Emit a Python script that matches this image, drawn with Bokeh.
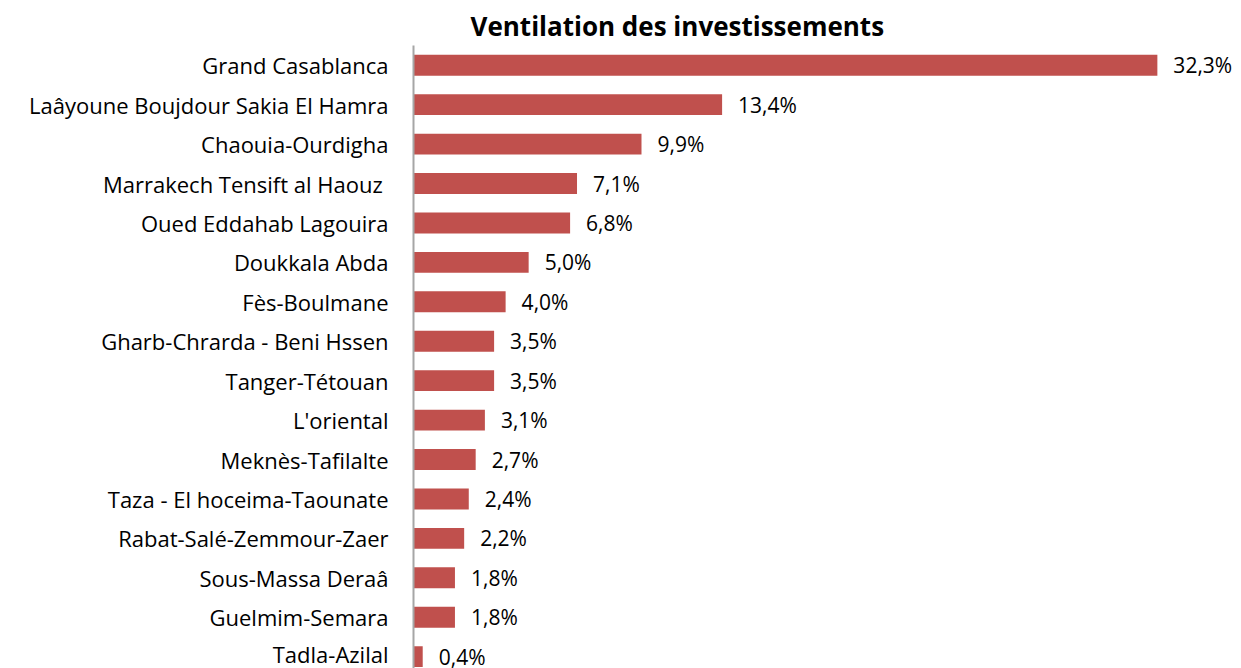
from bokeh.plotting import figure
from bokeh.models import ColumnDataSource, Range1d, FixedTicker, LinearAxis
from bokeh.core.properties import value
from bokeh.embed import file_html
from bokeh.resources import INLINE

regions = [
    "Grand Casablanca",
    "Laâyoune Boujdour Sakia El Hamra",
    "Chaouia-Ourdigha",
    "Marrakech Tensift al Haouz ",
    "Oued Eddahab Lagouira",
    "Doukkala Abda",
    "Fès-Boulmane",
    "Gharb-Chrarda - Beni Hssen",
    "Tanger-Tétouan",
    "L'oriental",
    "Meknès-Tafilalte",
    "Taza - El hoceima-Taounate",
    "Rabat-Salé-Zemmour-Zaer",
    "Sous-Massa Deraâ",
    "Guelmim-Semara",
    "Tadla-Azilal",
]
shares = [32.3, 13.4, 9.9, 7.1, 6.8, 5.0, 4.0, 3.5, 3.5, 3.1, 2.7, 2.4, 2.2, 1.8, 1.8, 0.4]

n = len(regions)
ypos = [n - 1 - i for i in range(n)]
labels = [f"{v:.1f}".replace(".", ",") + "%" for v in shares]

src = ColumnDataSource(dict(y=ypos, v=shares, lab=labels))

FONT = "Open Sans"
W, H = 1241, 668
LEFT, TOP = 413, 45
PX_PER_UNIT = 23.03
ROW = 39.43

p = figure(
    width=W, height=H,
    x_range=Range1d(0, (W - LEFT) / PX_PER_UNIT),
    y_range=Range1d(n - 0.5 - (H - TOP) / ROW, n - 0.5),
    output_backend="svg", toolbar_location=None,
    x_axis_location=None, y_axis_location=None,
    min_border_left=LEFT, min_border_right=0,
    min_border_top=TOP, min_border_bottom=0,
    title="Ventilation des investissements",
)
p.outline_line_color = None
p.grid.visible = False

p.hbar(y="y", left=0, right="v", height=0.53, source=src,
       fill_color="#C0504D", line_color=None)

p.text(x="v", y="y", text="lab", source=src, x_offset=16,
       text_align="left", text_baseline="middle",
       text_font=value(FONT), text_font_size="21px", text_color="#000000")

ax = LinearAxis(ticker=FixedTicker(ticks=ypos),
                major_label_overrides={y: r for y, r in zip(ypos, regions)})
ax.axis_line_color = "#A6A6A6"
ax.axis_line_width = 2
ax.major_tick_line_color = None
ax.minor_tick_line_color = None
ax.major_label_standoff = 19
ax.major_label_text_font = FONT
ax.major_label_text_font_size = "22px"
ax.major_label_text_color = "#000000"
p.add_layout(ax, "left")

p.title.align = "left"
p.title.offset = 57
p.title.text_font = FONT
p.title.text_font_style = "bold"
p.title.text_font_size = "26px"
p.title.text_color = "#000000"
p.title.standoff = 4

open("out.html", "w").write(file_html(p, INLINE))
